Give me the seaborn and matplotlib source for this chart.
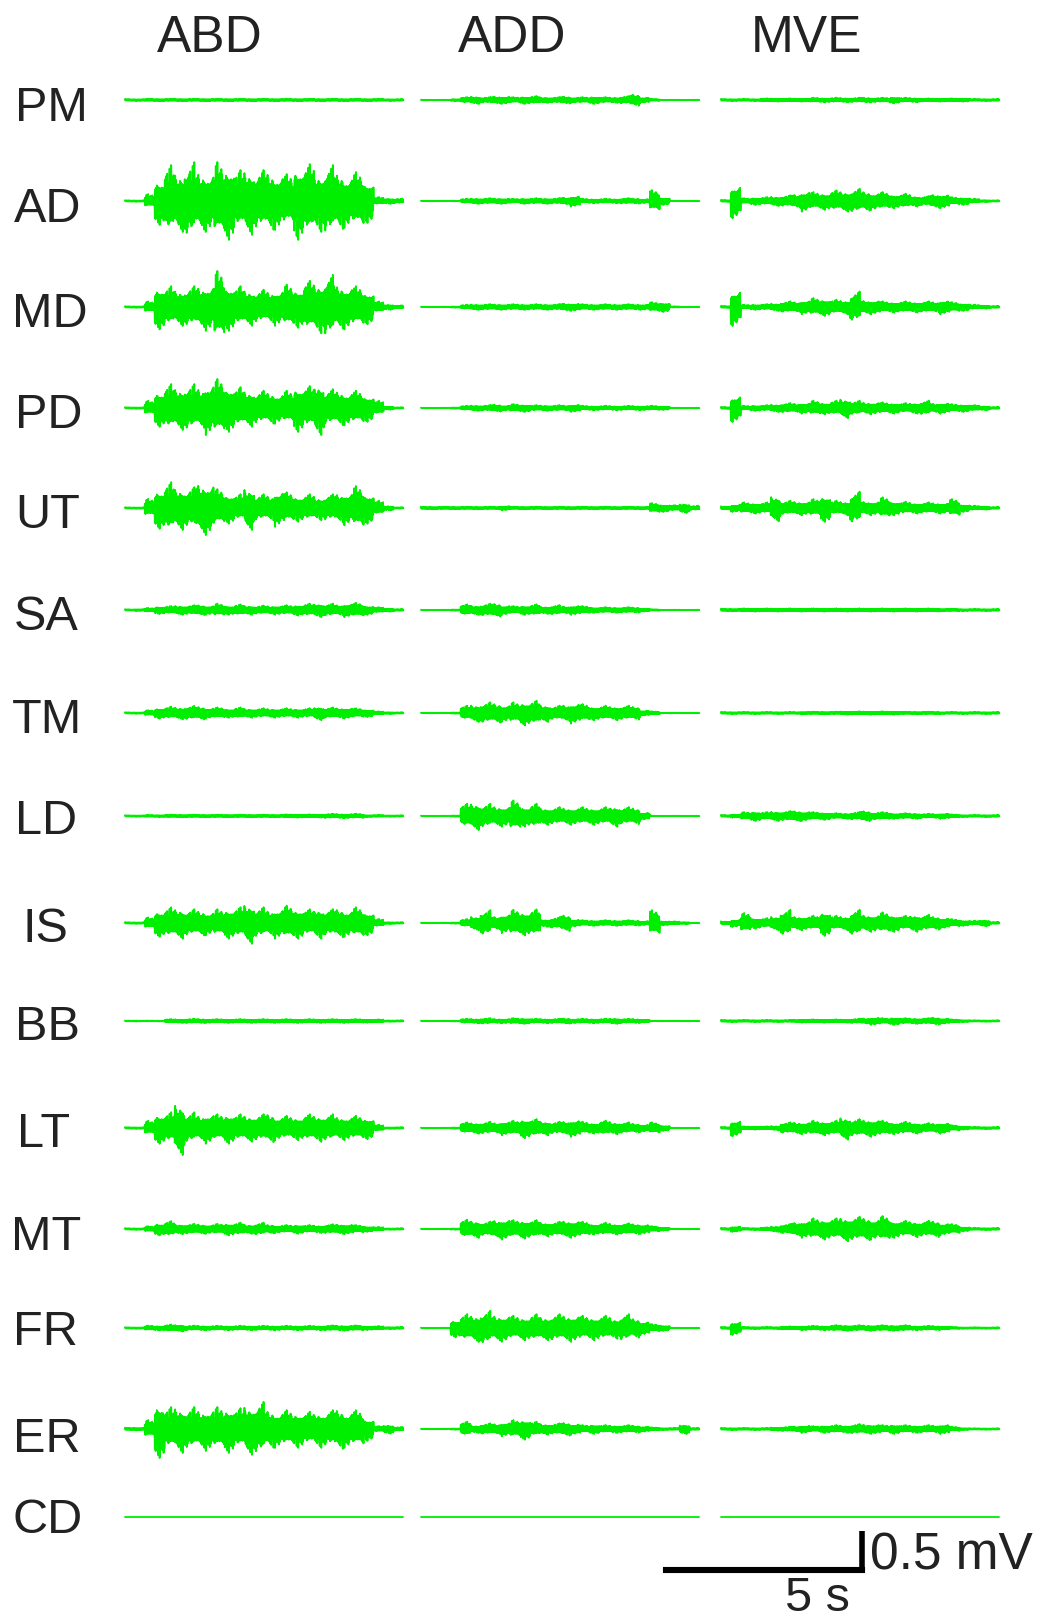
import numpy as np
import pandas as pd
import matplotlib
matplotlib.use("Agg")
import matplotlib.pyplot as plt
import seaborn as sns

# ---------------- data ----------------
TASKS = ["ABD", "ADD", "MVE"]
MUSCLES = ["PM", "AD", "MD", "PD", "UT", "SA", "TM", "LD", "IS", "BB", "LT", "MT", "FR", "ER", "CD"]

# EMG amplitude envelope (peak, microvolts), equal-width segments
ABD = {
    "PM": [12, 15, 15, 15, 15, 15, 15, 15, 15, 15, 15, 15, 15, 12],
    "AD": [9, 9, 89, 307, 461, 397, 499, 409, 397, 499, 499, 397, 435, 397, 409, 371, 345, 499, 473, 397, 461, 397, 345, 371, 281, 51, 38, 32],
    "MD": [9, 9, 72, 287, 267, 242, 267, 287, 307, 462, 307, 267, 242, 222, 222, 242, 287, 267, 337, 337, 412, 307, 287, 267, 222, 72, 37, 22],
    "PD": [9, 9, 92, 242, 307, 282, 307, 282, 347, 372, 307, 267, 242, 222, 222, 202, 222, 307, 282, 347, 242, 242, 222, 222, 177, 92, 22, 9],
    "UT": [9, 9, 117, 267, 332, 282, 267, 347, 347, 242, 202, 177, 282, 177, 177, 242, 202, 177, 177, 157, 177, 202, 222, 282, 202, 92, 32, 9],
    "SA": [9, 12, 27, 52, 52, 62, 62, 72, 62, 82, 62, 72, 62, 57, 57, 62, 62, 72, 82, 92, 82, 72, 92, 92, 62, 37, 22, 12],
    "TM": [9, 9, 37, 72, 82, 82, 92, 92, 72, 72, 62, 72, 62, 62, 62, 62, 62, 62, 62, 92, 72, 72, 72, 62, 52, 22, 12, 9],
    "LD": [9, 13, 17, 17, 17, 17, 17, 17, 22, 22, 30, 30, 13, 9],
    "IS": [10, 10, 72, 177, 202, 202, 177, 177, 157, 177, 202, 202, 267, 202, 177, 202, 222, 202, 177, 202, 177, 202, 177, 202, 157, 52, 12, 10],
    "BB": [6, 6, 26, 30, 26, 26, 26, 26, 26, 26, 26, 26, 22, 9],
    "LT": [10, 10, 92, 202, 202, 347, 202, 177, 202, 177, 202, 177, 177, 177, 202, 157, 157, 157, 177, 177, 177, 157, 157, 157, 142, 42, 9, 10],
    "MT": [10, 10, 37, 82, 102, 67, 67, 67, 62, 67, 82, 82, 62, 82, 62, 52, 52, 62, 52, 52, 62, 67, 67, 52, 37, 27, 9, 10],
    "FR": [9, 32, 45, 32, 30, 30, 30, 30, 30, 30, 35, 35, 26, 13],
    "ER": [17, 17, 115, 372, 282, 307, 282, 267, 282, 282, 307, 267, 332, 347, 267, 242, 242, 242, 222, 242, 242, 282, 242, 242, 152, 39, 60, 27],
    "CD": [0],
}
ADD = {
    "PM": [4, 4, 4, 13, 38, 51, 38, 51, 51, 38, 51, 51, 38, 38, 51, 38, 38, 51, 38, 38, 51, 81, 38, 13, 4, 4, 4, 4],
    "AD": [4, 4, 4, 4, 30, 38, 38, 38, 38, 30, 38, 38, 38, 38, 51, 73, 30, 30, 30, 30, 38, 38, 30, 140, 51, 4, 4, 4],
    "MD": [4, 4, 4, 8, 30, 38, 38, 38, 38, 38, 38, 38, 38, 38, 51, 51, 38, 38, 38, 38, 38, 38, 38, 64, 64, 8, 4, 4],
    "PD": [4, 4, 4, 8, 30, 38, 38, 51, 38, 51, 51, 38, 38, 38, 38, 51, 30, 30, 30, 30, 30, 30, 30, 30, 25, 4, 4, 4],
    "UT": [17, 17, 17, 17, 17, 17, 17, 17, 30, 17, 17, 17, 17, 17, 17, 17, 17, 17, 17, 17, 17, 17, 17, 64, 51, 38, 64, 30],
    "SA": [4, 4, 4, 8, 73, 64, 81, 94, 64, 51, 64, 73, 51, 64, 51, 64, 51, 38, 38, 38, 38, 38, 22, 9, 4, 4, 4, 4],
    "TM": [4, 4, 4, 8, 94, 115, 137, 137, 115, 137, 158, 158, 115, 94, 115, 137, 115, 94, 94, 94, 94, 94, 38, 22, 4, 4, 4, 4],
    "LD": [4, 4, 4, 8, 158, 180, 158, 137, 137, 200, 137, 158, 115, 115, 115, 115, 115, 115, 115, 137, 115, 115, 51, 4, 4, 4, 4, 4],
    "IS": [4, 4, 4, 8, 51, 94, 165, 94, 130, 170, 160, 175, 51, 73, 115, 51, 38, 38, 38, 38, 38, 38, 30, 165, 30, 22, 13, 4],
    "BB": [4, 4, 4, 6, 30, 30, 38, 30, 30, 38, 38, 30, 30, 30, 38, 30, 30, 30, 30, 38, 30, 30, 22, 4, 4, 4, 4, 4],
    "LT": [4, 4, 4, 8, 73, 73, 81, 73, 94, 94, 130, 115, 94, 81, 94, 115, 81, 73, 94, 81, 73, 64, 51, 73, 38, 4, 4, 4],
    "MT": [4, 4, 4, 8, 120, 115, 94, 125, 137, 115, 125, 115, 94, 94, 115, 115, 94, 73, 81, 73, 73, 73, 64, 38, 22, 4, 4, 4],
    "FR": [4, 4, 4, 120, 178, 178, 222, 178, 178, 158, 158, 178, 158, 178, 178, 178, 158, 158, 158, 137, 178, 137, 94, 51, 38, 4, 4, 4],
    "ER": [4, 4, 4, 8, 94, 51, 73, 73, 94, 115, 137, 94, 73, 73, 94, 73, 51, 64, 51, 51, 51, 51, 38, 22, 13, 13, 64, 13],
    "CD": [0],
}
MVE = {
    "PM": [13, 13, 13, 13, 22, 22, 22, 22, 22, 30, 30, 30, 30, 30, 35, 30, 30, 43, 30, 30, 22, 22, 22, 22, 22, 13, 13, 13],
    "AD": [13, 222, 38, 51, 51, 64, 73, 94, 137, 115, 115, 137, 137, 158, 137, 115, 115, 94, 94, 73, 64, 94, 94, 51, 51, 30, 13, 9],
    "MD": [13, 243, 30, 38, 38, 51, 73, 73, 94, 115, 115, 94, 94, 200, 94, 94, 73, 73, 73, 73, 73, 73, 94, 64, 51, 30, 22, 13],
    "PD": [13, 180, 30, 38, 38, 51, 64, 64, 73, 94, 81, 94, 130, 94, 81, 81, 73, 73, 64, 73, 94, 64, 73, 51, 51, 38, 30, 13],
    "UT": [22, 51, 73, 73, 73, 170, 94, 94, 94, 115, 178, 94, 94, 210, 94, 94, 137, 94, 81, 73, 73, 73, 73, 115, 51, 30, 22, 13],
    "SA": [17, 22, 22, 22, 22, 22, 22, 22, 22, 22, 22, 17, 13, 13],
    "TM": [13, 13, 13, 13, 17, 17, 22, 22, 22, 17, 17, 13, 13, 13],
    "LD": [13, 22, 51, 64, 51, 64, 64, 73, 64, 51, 51, 38, 38, 51, 73, 51, 51, 38, 38, 38, 30, 30, 38, 22, 13, 13, 13, 13],
    "IS": [22, 51, 128, 73, 64, 94, 170, 94, 94, 94, 166, 94, 94, 170, 115, 115, 137, 115, 94, 115, 106, 94, 73, 51, 38, 30, 43, 13],
    "BB": [13, 13, 13, 13, 13, 13, 13, 17, 22, 22, 22, 22, 22, 30, 38, 51, 38, 51, 38, 38, 38, 51, 38, 22, 13, 9, 9, 9],
    "LT": [13, 107, 22, 22, 22, 30, 73, 81, 81, 94, 94, 94, 150, 115, 115, 115, 94, 81, 81, 73, 64, 64, 73, 38, 22, 13, 13, 13],
    "MT": [13, 38, 13, 13, 22, 38, 64, 94, 115, 137, 137, 137, 158, 158, 158, 137, 166, 115, 106, 106, 106, 115, 81, 64, 30, 13, 13, 13],
    "FR": [13, 90, 13, 13, 13, 13, 22, 22, 30, 30, 30, 38, 38, 38, 38, 38, 38, 38, 38, 30, 30, 30, 22, 13, 9, 9, 9, 9],
    "ER": [13, 13, 13, 13, 13, 22, 30, 38, 51, 38, 51, 51, 51, 64, 64, 64, 51, 64, 51, 51, 51, 51, 64, 30, 13, 9, 9, 9],
    "CD": [0],
}
TRACE_DURATION_S = 7.1
SCALE_TIME_S = 5
SCALE_AMP_MV = 0.5
SCALE_TIME_LABEL = "5 s"
SCALE_AMP_LABEL = "0.5 mV"

# ---------------- layout / style ----------------
W, H = 1049, 1618
PX_PER_S = 39.2
PX_PER_MV = 78.0
COL_START_PX = [125, 421, 721]
ROW_Y_PX = [100, 201, 307, 408, 508, 610, 713, 816, 923, 1021, 1128, 1229, 1328, 1429, 1517]
LABEL_X_PX = [15, 14, 12, 15, 15, 14, 12, 15, 22, 15, 17, 11, 13, 13, 12]
LABEL_BASE_PX = [121, 222, 327, 428, 528, 630, 733, 834, 942, 1040, 1147, 1250, 1345, 1452, 1533]
TITLE_X_PX = [210, 512, 806]
TITLE_BASE_PX = 52
SB_RIGHT_PX, SB_Y_PX = 862, 1570
TEXT_COLOR = "#222222"
TRACE_COLOR = "#00ee00"
# fixed stroke texture (relative tooth heights) used to render the envelopes as EMG-like traces
TEXTURE = np.array([1.0, 0.52, 0.66, 0.45, 0.6, 0.56, 0.72, 0.48, 0.63, 0.54, 0.82, 0.47,
                    0.68, 0.58, 0.44, 0.62, 0.53, 0.7, 0.5, 0.76, 0.55, 0.46, 0.65, 0.51,
                    0.6, 0.9, 0.49, 0.64, 0.55])
N_SAMPLES = 700

sns.set_theme(style="white")
plt.rcParams["font.family"] = ["Liberation Sans", "DejaVu Sans"]


def px2x(px):
    return px / PX_PER_S


def px2y(py):
    return -py / PX_PER_MV


frames = []
idx = np.arange(N_SAMPLES)
sign = np.where(idx % 2 == 0, 1.0, -1.0)
tex = TEXTURE[idx % len(TEXTURE)]
t = idx * TRACE_DURATION_S / (N_SAMPLES - 1)
for ci, (task, env) in enumerate(zip(TASKS, [ABD, ADD, MVE])):
    for ri, m in enumerate(MUSCLES):
        amp = np.asarray(env[m], dtype=float) / 1000.0  # mV
        k = len(amp)
        seg = np.minimum(idx * k // N_SAMPLES, k - 1)
        v = sign * amp[seg] * tex
        frames.append(pd.DataFrame({
            "time": t + px2x(COL_START_PX[ci]),
            "mV": v + px2y(ROW_Y_PX[ri]),
            "trace": f"{task}-{m}",
        }))
df = pd.concat(frames, ignore_index=True)

fig = plt.figure(figsize=(W / 100, H / 100), dpi=100)
fig.patch.set_facecolor("white")
ax = fig.add_axes([0, 0, 1, 1])
sns.lineplot(data=df, x="time", y="mV", units="trace", estimator=None, sort=False,
             color=TRACE_COLOR, linewidth=1.3, ax=ax, legend=False)
ax.set_xlim(0, W / PX_PER_S)
ax.set_ylim(-H / PX_PER_MV, 0)
ax.axis("off")

# titles
for cx, task in zip(TITLE_X_PX, TASKS):
    ax.text(px2x(cx), px2y(TITLE_BASE_PX), task, ha="center", va="baseline",
            fontsize=37, color=TEXT_COLOR)
# muscle labels
for lx, ly, m in zip(LABEL_X_PX, LABEL_BASE_PX, MUSCLES):
    ax.text(px2x(lx), px2y(ly), m, ha="left", va="baseline", fontsize=35, color=TEXT_COLOR)

# scale bar
xr = px2x(SB_RIGHT_PX)
yb = px2y(SB_Y_PX)
ax.plot([xr - SCALE_TIME_S, xr], [yb, yb], color="black", lw=4.4, solid_capstyle="projecting")
ax.plot([xr, xr], [yb, yb + SCALE_AMP_MV], color="black", lw=4.0, solid_capstyle="butt")
ax.text(px2x(870), px2y(1569), SCALE_AMP_LABEL, ha="left", va="baseline", fontsize=37, color=TEXT_COLOR)
ax.text(px2x(817), px2y(1611), SCALE_TIME_LABEL, ha="center", va="baseline", fontsize=35, color=TEXT_COLOR)

fig.savefig("out.png", dpi=100, facecolor="white")
